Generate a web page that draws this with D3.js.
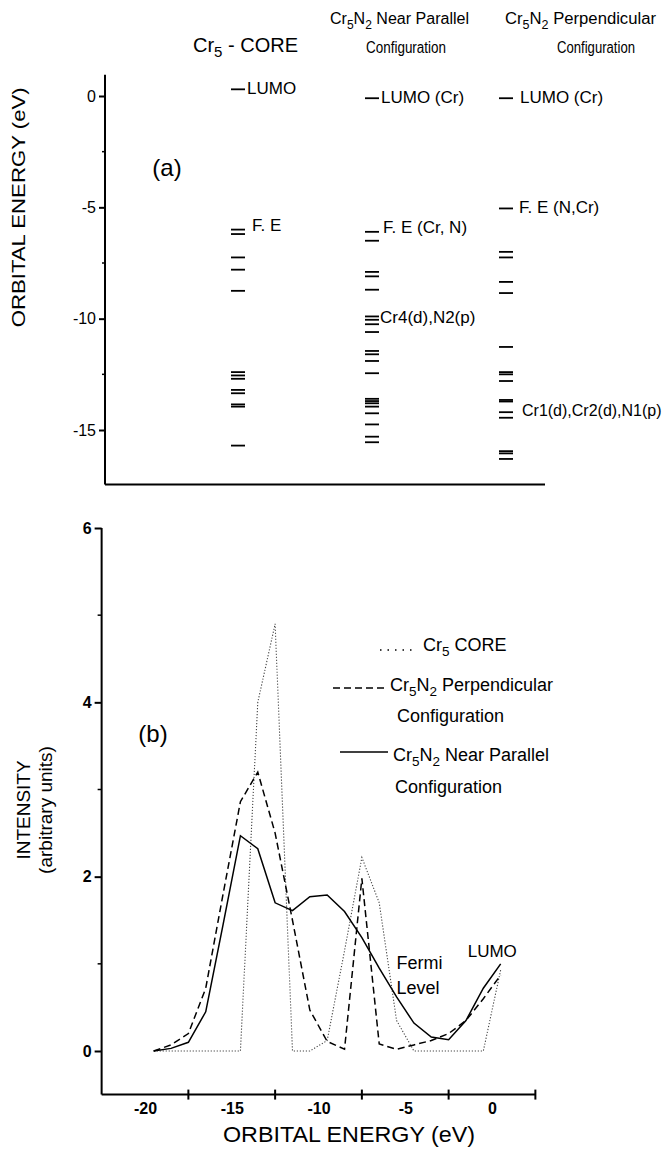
<!DOCTYPE html>
<html>
<head>
<meta charset="utf-8">
<script src="https://cdn.jsdelivr.net/npm/d3@7"></script>
<style>
  body { margin: 0; background: #fff; }
  svg { display: block; }
  text { font-family: "Liberation Sans", Arial, sans-serif; fill: #000; }
  .axis path, .axis line { stroke: #000; stroke-width: 2; }
  .axis text { font-size: 16px; }
  .bold text { font-weight: bold; }
</style>
</head>
<body>
<script>
// panel (a): orbital levels (eV) for each configuration
var columns = ["core", "parallel", "perp"];
var coreLevels = [0.3, -6.0, -6.2, -7.25, -7.8, -8.75, -12.4, -12.55, -12.7, -13.2, -13.35, -13.85, -13.95, -15.7];
var parallelLevels = [-0.1, -6.1, -6.5, -7.9, -8.1, -8.7, -9.9, -10.05, -10.25, -10.6, -11.45, -11.6, -11.9,
                      -12.45, -13.6, -13.7, -13.8, -13.95, -14.25, -14.75, -15.3, -15.55];
var perpLevels = [-0.1, -5.05, -7.0, -7.25, -8.35, -8.85, -11.27, -12.4, -12.5, -12.8, -13.65, -13.72,
                  -14.2, -14.45, -15.95, -16.05, -16.3];
var levelTicks = [0, -5, -10, -15];

// panel (b): density of states on a 1 eV grid
var energies = [-19.5, -18.5, -17.5, -16.5, -15.5, -14.5, -13.5, -12.5, -11.5, -10.5, -9.5,
                -8.5, -7.5, -6.5, -5.5, -4.5, -3.5, -2.5, -1.5, -0.5, 0.5];
var coreDos = [0, 0, 0, 0, 0, 0, 4.0, 4.9, 0, 0, 0.12, 1.15, 2.22, 1.7, 0.35, 0, 0, 0, 0, 0, 0.93];
var perpDos = [0, 0.07, 0.2, 0.72, 1.8, 2.86, 3.2, 2.5, 1.5, 0.47, 0.11, 0.02, 1.98, 0.08, 0.02,
               0.07, 0.12, 0.2, 0.35, 0.6, 0.87];
var parallelDos = [0, 0.03, 0.1, 0.45, 1.45, 2.47, 2.32, 1.7, 1.61, 1.77, 1.79, 1.6, 1.3, 0.95,
                   0.62, 0.32, 0.16, 0.13, 0.35, 0.72, 1.0];
var xTicks = [-20, -15, -10, -5, 0];
var yTicks = [0, 2, 4, 6];

var fmt = function (d) { return String(d); };   // plain hyphen like the original

var svg = d3.select("body").append("svg")
    .attr("width", 663)
    .attr("height", 1150);

// ---------- panel (a) ----------
var ya = d3.scaleLinear().domain([0, -15]).range([96, 430]);
var xa = d3.scalePoint().domain(columns).range([238, 506]);
var ax0 = 105;

var yAxisA = svg.append("g")
    .attr("class", "axis")
    .attr("transform", "translate(" + ax0 + ",0)")
    .call(d3.axisLeft(ya).tickValues(levelTicks).tickSize(6).tickSizeOuter(0).tickFormat(fmt));
yAxisA.select(".domain").remove();
yAxisA.selectAll(".tick text").attr("x", -9);

svg.append("line")
    .attr("x1", ax0).attr("x2", ax0)
    .attr("y1", ya(0.95)).attr("y2", ya(-17.45))
    .attr("stroke", "#000").attr("stroke-width", 2);
svg.append("line")
    .attr("x1", ax0).attr("x2", 545)
    .attr("y1", ya(-17.45)).attr("y2", ya(-17.45))
    .attr("stroke", "#000").attr("stroke-width", 2);

svg.selectAll(".minorA")
    .data([-2.5, -7.5, -12.5])
    .enter().append("line")
    .attr("x1", ax0 - 3).attr("x2", ax0)
    .attr("y1", function (d) { return ya(d); })
    .attr("y2", function (d) { return ya(d); })
    .attr("stroke", "#000").attr("stroke-width", 1.5);

svg.append("text")
    .attr("transform", "translate(20," + ya(-5) + ") rotate(-90)")
    .attr("text-anchor", "middle")
    .attr("dominant-baseline", "middle")
    .attr("textLength", 240).attr("lengthAdjust", "spacingAndGlyphs")
    .style("font-size", "18px")
    .text("ORBITAL ENERGY (eV)");

svg.append("text")
    .attr("x", 167).attr("y", 176)
    .attr("text-anchor", "middle")
    .style("font-size", "24px")
    .text("(a)");

// level dashes
var groups = [
  { col: "core", levels: coreLevels },
  { col: "parallel", levels: parallelLevels },
  { col: "perp", levels: perpLevels }
];
groups.forEach(function (g) {
  svg.append("g").selectAll("line")
    .data(g.levels)
    .enter().append("line")
    .attr("x1", xa(g.col) - 7)
    .attr("x2", xa(g.col) + 7)
    .attr("y1", function (d) { return ya(d); })
    .attr("y2", function (d) { return ya(d); })
    .attr("stroke", "#000")
    .attr("stroke-width", 1.8);
});

// text with sub/superscript pieces
function sub(t, parts) {
  parts.forEach(function (p) {
    var ts = t.append("tspan").text(p[0]);
    if (p[1] === "sub") ts.attr("dy", 5).style("font-size", "0.75em");
    if (p[1] === "up") ts.attr("dy", -5);
  });
}

// column headings
var h1 = svg.append("text").attr("x", 193).attr("y", 52)
    .attr("textLength", 105).attr("lengthAdjust", "spacingAndGlyphs")
    .style("font-size", "20px");
sub(h1, [["Cr"], ["5", "sub"], [" - CORE", "up"]]);

var h2 = svg.append("text").attr("x", 330).attr("y", 24)
    .attr("textLength", 139).attr("lengthAdjust", "spacingAndGlyphs")
    .style("font-size", "16px");
sub(h2, [["Cr"], ["5", "sub"], ["N", "up"], ["2", "sub"], [" Near Parallel", "up"]]);
svg.append("text").attr("x", 366).attr("y", 53)
    .attr("textLength", 80).attr("lengthAdjust", "spacingAndGlyphs")
    .style("font-size", "16px").text("Configuration");

var h3 = svg.append("text").attr("x", 505).attr("y", 24)
    .attr("textLength", 151).attr("lengthAdjust", "spacingAndGlyphs")
    .style("font-size", "16px");
sub(h3, [["Cr"], ["5", "sub"], ["N", "up"], ["2", "sub"], [" Perpendicular", "up"]]);
svg.append("text").attr("x", 557).attr("y", 53)
    .attr("textLength", 78).attr("lengthAdjust", "spacingAndGlyphs")
    .style("font-size", "16px").text("Configuration");

// level annotations
var levelNotes = [
  { col: "core", e: 0.3, text: "LUMO", dx: 9 },
  { col: "core", e: -5.85, text: "F. E", dx: 14 },
  { col: "parallel", e: -0.1, text: "LUMO (Cr)", dx: 9 },
  { col: "parallel", e: -5.95, text: "F. E (Cr, N)", dx: 11 },
  { col: "parallel", e: -10.0, text: "Cr4(d),N2(p)", dx: 8 },
  { col: "perp", e: -0.1, text: "LUMO (Cr)", dx: 14 },
  { col: "perp", e: -5.05, text: "F. E (N,Cr)", dx: 13 },
  { col: "perp", e: -14.2, text: "Cr1(d),Cr2(d),N1(p)", dx: 16 }
];
svg.append("g").selectAll("text")
    .data(levelNotes)
    .enter().append("text")
    .attr("x", function (d) { return xa(d.col) + d.dx; })
    .attr("y", function (d) { return ya(d.e); })
    .attr("dominant-baseline", "middle")
    .style("font-size", function (d) { return d.text.length > 14 ? "16px" : "17px"; })
    .text(function (d) { return d.text; });

// ---------- panel (b) ----------
var xb = d3.scaleLinear().domain([-20, 0]).range([145, 492]);
var yb = d3.scaleLinear().domain([0, 6]).range([1051, 528]);
var bx0 = xb(-22.5), by0 = yb(-0.5);

svg.append("line")
    .attr("x1", bx0).attr("x2", bx0)
    .attr("y1", yb(6)).attr("y2", by0)
    .attr("stroke", "#000").attr("stroke-width", 2);
svg.append("line")
    .attr("x1", bx0).attr("x2", xb(2.5))
    .attr("y1", by0).attr("y2", by0)
    .attr("stroke", "#000").attr("stroke-width", 2);

var yAxisB = svg.append("g")
    .attr("class", "axis bold")
    .attr("transform", "translate(" + bx0 + ",0)")
    .call(d3.axisLeft(yb).tickValues(yTicks).tickSize(7).tickFormat(fmt));
yAxisB.select(".domain").remove();
yAxisB.selectAll(".tick text").attr("x", -10);

svg.selectAll(".minorB")
    .data([1, 3, 5])
    .enter().append("line")
    .attr("x1", bx0 - 4).attr("x2", bx0)
    .attr("y1", function (d) { return yb(d); })
    .attr("y2", function (d) { return yb(d); })
    .attr("stroke", "#000").attr("stroke-width", 1.5);

var xAxisB = svg.append("g")
    .attr("class", "axis bold")
    .attr("transform", "translate(0," + by0 + ")")
    .call(d3.axisBottom(xb).tickValues(xTicks).tickSize(0).tickPadding(8).tickFormat(fmt));
xAxisB.select(".domain").remove();

svg.selectAll(".crossTick")
    .data([-17.5, -12.5, -7.5, -2.5, 2.5])
    .enter().append("line")
    .attr("x1", function (d) { return xb(d); })
    .attr("x2", function (d) { return xb(d); })
    .attr("y1", by0 - 5).attr("y2", by0 + 5)
    .attr("stroke", "#000").attr("stroke-width", 2);

svg.append("text")
    .attr("x", 223).attr("y", 1142)
    .attr("textLength", 252).attr("lengthAdjust", "spacingAndGlyphs")
    .style("font-size", "22px")
    .text("ORBITAL ENERGY (eV)");

svg.append("text")
    .attr("transform", "translate(30,810) rotate(-90)")
    .attr("text-anchor", "middle")
    .style("font-size", "19px")
    .text("INTENSITY");
svg.append("text")
    .attr("transform", "translate(52,810) rotate(-90)")
    .attr("text-anchor", "middle")
    .style("font-size", "19px")
    .text("(arbitrary units)");

svg.append("text")
    .attr("x", 153).attr("y", 742)
    .attr("text-anchor", "middle")
    .style("font-size", "24px")
    .text("(b)");

var line = d3.line()
    .x(function (d, i) { return xb(energies[i]); })
    .y(function (d) { return yb(d); });

svg.append("path").datum(coreDos)
    .attr("d", line).attr("fill", "none")
    .attr("stroke", "#444").attr("stroke-width", 1.1)
    .attr("stroke-dasharray", "1.2,1.8");
svg.append("path").datum(perpDos)
    .attr("d", line).attr("fill", "none")
    .attr("stroke", "#000").attr("stroke-width", 1.5)
    .attr("stroke-dasharray", "7,4");
svg.append("path").datum(parallelDos)
    .attr("d", line).attr("fill", "none")
    .attr("stroke", "#000").attr("stroke-width", 1.5);

// legend
var lg = svg.append("g").style("font-size", "18px");
lg.append("line").attr("x1", 380).attr("x2", 412).attr("y1", 650).attr("y2", 650)
    .attr("stroke", "#000").attr("stroke-width", 1.5).attr("stroke-dasharray", "1.5,6");
var l1 = lg.append("text").attr("x", 423).attr("y", 651);
sub(l1, [["Cr"], ["5", "sub"], [" CORE", "up"]]);

lg.append("line").attr("x1", 333).attr("x2", 388).attr("y1", 688).attr("y2", 688)
    .attr("stroke", "#000").attr("stroke-width", 1.5).attr("stroke-dasharray", "7,4");
var l2 = lg.append("text").attr("x", 390).attr("y", 691);
sub(l2, [["Cr"], ["5", "sub"], ["N", "up"], ["2", "sub"], [" Perpendicular", "up"]]);
lg.append("text").attr("x", 397).attr("y", 722).text("Configuration");

lg.append("line").attr("x1", 340).attr("x2", 388).attr("y1", 752).attr("y2", 752)
    .attr("stroke", "#000").attr("stroke-width", 1.5);
var l3 = lg.append("text").attr("x", 393).attr("y", 761);
sub(l3, [["Cr"], ["5", "sub"], ["N", "up"], ["2", "sub"], [" Near Parallel", "up"]]);
lg.append("text").attr("x", 395).attr("y", 793).text("Configuration");

svg.append("text").attr("x", xb(-5.5)).attr("y", 969).style("font-size", "18px").text("Fermi");
svg.append("text").attr("x", xb(-5.5)).attr("y", 994).style("font-size", "18px").text("Level");
svg.append("text").attr("x", xb(-1.4)).attr("y", 957).style("font-size", "17px").text("LUMO");
</script>
</body>
</html>
